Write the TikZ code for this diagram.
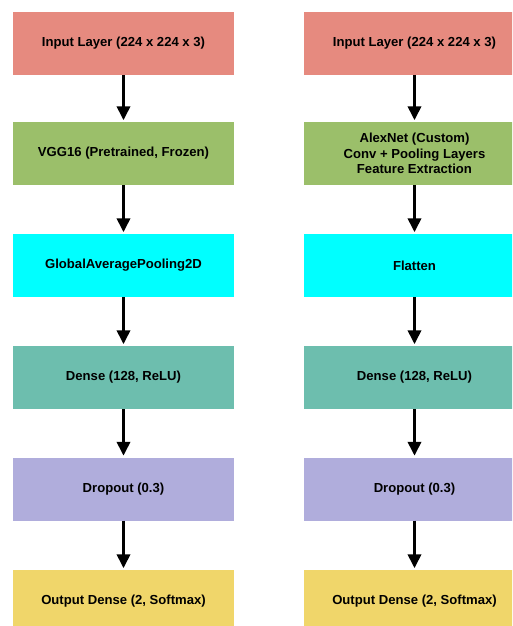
\documentclass[tikz,border=0pt]{standalone}
\usepackage{fontspec}
\setmainfont{Liberation Sans}
\usetikzlibrary{arrows.meta}
\definecolor{cinput}{RGB}{230,138,127}
\definecolor{cgreen}{RGB}{155,191,106}
\definecolor{ccyan}{RGB}{0,255,255}
\definecolor{cteal}{RGB}{109,190,174}
\definecolor{cpurple}{RGB}{176,173,220}
\definecolor{cyellow}{RGB}{240,214,106}
\tikzset{
  layer/.style={draw=none, minimum width=221pt, minimum height=63pt, inner sep=0pt,
    align=center, font=\fontsize{13.1}{15.5}\selectfont\bfseries},
  flow/.style={-{Triangle[width=13pt,length=14pt]}, line width=3.5pt, black, shorten >=1.5pt}
}
\begin{document}
\begin{tikzpicture}[x=1pt,y=-1pt]
\clip (0,0) rectangle (512,626);
\fill[white] (0,0) rectangle (512,626);
% left column
\node[layer, fill=cinput]  (l1) at (123.5,43.5)  {Input Layer (224 x 224 x 3)};
\node[layer, fill=cgreen]  (l2) at (123.5,153.5) {VGG16 (Pretrained, Frozen)};
\node[layer, fill=ccyan]   (l3) at (123.5,265.5) {GlobalAveragePooling2D};
\node[layer, fill=cteal]   (l4) at (123.5,377.5) {Dense (128, ReLU)};
\node[layer, fill=cpurple] (l5) at (123.5,489)   {Dropout (0.3)};
\node[layer, fill=cyellow] (l6) at (123.5,601.5) {Output Dense (2, Softmax)};
% right column
\node[layer, fill=cinput]  (r1) at (414.5,43.5)  {Input Layer (224 x 224 x 3)};
\node[layer, fill=cgreen]  (r2) at (414.5,153.5) {AlexNet (Custom)\\Conv + Pooling Layers\\Feature Extraction};
\node[layer, fill=ccyan]   (r3) at (414.5,265.5) {Flatten};
\node[layer, fill=cteal]   (r4) at (414.5,377.5) {Dense (128, ReLU)};
\node[layer, fill=cpurple] (r5) at (414.5,489)   {Dropout (0.3)};
\node[layer, fill=cyellow] (r6) at (414.5,601.5) {Output Dense (2, Softmax)};
% arrows
\foreach \a/\b in {l1/l2,l2/l3,l3/l4,l4/l5,l5/l6,r1/r2,r2/r3,r3/r4,r4/r5,r5/r6}
  \draw[flow] (\a.south) -- (\b.north);
\end{tikzpicture}
\end{document}
